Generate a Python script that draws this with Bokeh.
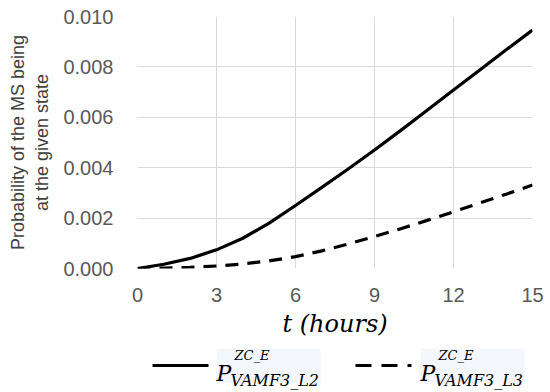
from bokeh.plotting import figure
from bokeh.layouts import column
from bokeh.models import FixedTicker, PrintfTickFormatter, Range1d
from bokeh.core.properties import value
from bokeh.embed import file_html
from bokeh.resources import INLINE

# ---- data ----
t_hours = [0, 1, 2, 3, 4, 5, 6, 7, 8, 9, 10, 11, 12, 13, 14, 15]
p_l2 = [0.0, 0.00017, 0.00040, 0.00074, 0.00120, 0.00180, 0.00250, 0.00322,
        0.00395, 0.00470, 0.00548, 0.00628, 0.00708, 0.00788, 0.00868, 0.00946]
p_l3 = [0.0, 0.00002, 0.00005, 0.00010, 0.00018, 0.00030, 0.00047, 0.00070,
        0.00097, 0.00127, 0.00158, 0.00191, 0.00225, 0.00260, 0.00295, 0.00331]
x_ticks = [0, 3, 6, 9, 12, 15]
y_ticks = [0.0, 0.002, 0.004, 0.006, 0.008, 0.010]
y_label = "Probability of the MS being\nat the given state"
x_label = "t (hours)"
legend_main = ["P", "P"]
legend_sup = ["ZC_E", "ZC_E"]
legend_sub = ["VAMF3_L2", "VAMF3_L3"]
legend_dash = ["solid", "16 10"]

W = 550
H_MAIN, H_LEG = 340, 52
F_LEFT, F_RIGHT, F_TOP, F_BOTTOM = 137, 532, 16, 271

p = figure(width=W, height=H_MAIN, output_backend="svg", toolbar_location=None,
           x_range=Range1d(0, 15), y_range=Range1d(0, 0.010),
           min_border_left=F_LEFT, min_border_right=W - F_RIGHT,
           min_border_top=F_TOP, min_border_bottom=H_MAIN - F_BOTTOM)
p.outline_line_color = None
p.border_fill_color = "white"

p.line(t_hours, p_l2, line_color="black", line_width=3.2, line_join="round")
p.line(t_hours, p_l3, line_color="black", line_width=3.2, line_dash="13 9")

for g in (p.xgrid, p.ygrid):
    g.grid_line_color = "#d9d9d9"
    g.grid_line_width = 1
p.xgrid.ticker = FixedTicker(ticks=x_ticks)
p.ygrid.ticker = FixedTicker(ticks=y_ticks)

p.xaxis.ticker = FixedTicker(ticks=x_ticks)
p.yaxis.ticker = FixedTicker(ticks=y_ticks)
p.yaxis.formatter = PrintfTickFormatter(format="%.3f")
for ax in (p.xaxis, p.yaxis):
    ax.axis_line_color = None
    ax.major_tick_line_color = None
    ax.minor_tick_line_color = None
    ax.major_label_text_font = "Liberation Sans"
    ax.major_label_text_font_size = "20px"
    ax.major_label_text_color = "#595959"
p.yaxis.major_label_standoff = 18
p.xaxis.major_label_standoff = 13

p.yaxis.axis_label = y_label
p.yaxis.axis_label_text_font = "Liberation Sans"
p.yaxis.axis_label_text_font_size = "18px"
p.yaxis.axis_label_text_font_style = "normal"
p.yaxis.axis_label_text_color = "#404040"
p.yaxis.axis_label_standoff = 8

p.xaxis.axis_label = x_label
p.xaxis.axis_label_text_font = "DejaVu Serif"
p.xaxis.axis_label_text_font_size = "24px"
p.xaxis.axis_label_text_font_style = "italic"
p.xaxis.axis_label_text_color = "black"
p.xaxis.axis_label_standoff = 5

# ---- legend strip: its frame lines up with the main frame, so its x range
#      is expressed in page pixels; y is measured up from the strip bottom ----
leg = figure(width=W, height=H_LEG, output_backend="svg", toolbar_location=None,
             x_range=Range1d(F_LEFT, F_RIGHT), y_range=Range1d(0, H_LEG),
             min_border=0, x_axis_type=None, y_axis_type=None)
leg.grid.visible = False
leg.outline_line_color = None
leg.border_fill_color = "white"

offsets = [0, 204]
sample_x = [(152, 208), (355, 411)]
for i in range(2):
    dx = offsets[i]
    leg.quad(left=216 + dx, right=320 + dx, bottom=9, top=44,
             fill_color="#f3f7fc", line_color=None)
    leg.line(list(sample_x[i]), [27, 27], line_color="black", line_width=3.2,
             line_dash=legend_dash[i])
    leg.text(x=[216 + dx], y=[19], text=[legend_main[i]],
             text_font=value("DejaVu Serif"), text_font_style="italic",
             text_font_size="22px", text_baseline="alphabetic", text_color="black")
    leg.text(x=[234 + dx], y=[37], text=[legend_sup[i]],
             text_font=value("DejaVu Serif"), text_font_style="italic",
             text_font_size="13px", text_baseline="alphabetic", text_color="black")
    leg.text(x=[230 + dx], y=[12], text=[legend_sub[i]],
             text_font=value("DejaVu Serif"), text_font_style="italic",
             text_font_size="16px", text_baseline="alphabetic", text_color="black")

layout = column(p, leg, spacing=0)
open("out.html", "w").write(file_html(layout, INLINE))
